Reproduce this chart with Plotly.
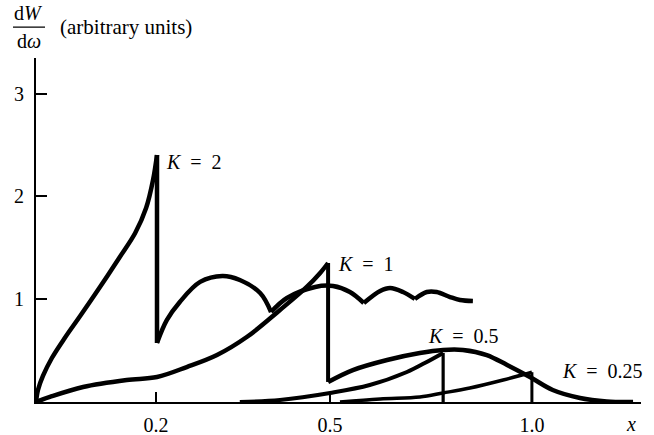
import plotly.graph_objects as go

# ---- data (x in chart units; the "1.0" tick sits at x = 1.0) ----
# K = 2
k2_rise_x = [0, 0.004, 0.014, 0.032, 0.058, 0.089, 0.129, 0.169, 0.200, 0.222, 0.236, 0.244]
k2_rise_y = [0, 0.117, 0.253, 0.428, 0.623, 0.837, 1.119, 1.411, 1.644, 1.887, 2.160, 2.403]
k2_drop_x = [0.244, 0.244]
k2_drop_y = [2.403, 0.574]
k2_arc1_x = [0.244, 0.264, 0.290, 0.331, 0.376, 0.411, 0.452, 0.474]
k2_arc1_y = [0.574, 0.798, 0.973, 1.168, 1.226, 1.187, 1.060, 0.875]
k2_arc2_x = [0.474, 0.506, 0.563, 0.599, 0.633, 0.661]
k2_arc2_y = [0.875, 1.012, 1.119, 1.128, 1.070, 0.963]
k2_arc3_x = [0.661, 0.694, 0.714, 0.740, 0.764]
k2_arc3_y = [0.963, 1.080, 1.109, 1.070, 1.002]
k2_arc4_x = [0.764, 0.788, 0.808, 0.835, 0.855, 0.881]
k2_arc4_y = [1.002, 1.070, 1.070, 1.021, 0.992, 0.982]

# K = 1
k1_rise_x = [0, 0.028, 0.095, 0.183, 0.244, 0.304, 0.365, 0.425, 0.492, 0.546, 0.573, 0.589]
k1_rise_y = [0, 0.049, 0.146, 0.214, 0.243, 0.340, 0.457, 0.632, 0.895, 1.119, 1.255, 1.352]
k1_drop_x = [0.589, 0.589]
k1_drop_y = [1.352, 0.195]
k1_hump_x = [0.589, 0.639, 0.708, 0.774, 0.821, 0.861, 0.909, 0.950, 0.996, 1.042, 1.097, 1.151, 1.204]
k1_hump_y = [0.195, 0.311, 0.409, 0.477, 0.506, 0.506, 0.457, 0.360, 0.243, 0.117, 0.039, 0.005, 0.0]

# K = 0.5
k05_rise_x = [0.411, 0.492, 0.593, 0.673, 0.748, 0.784, 0.821]
k05_rise_y = [0, 0.020, 0.088, 0.165, 0.292, 0.379, 0.477]
k05_drop_x = [0.821, 0.821]
k05_drop_y = [0.477, 0]

# K = 0.25
k025_rise_x = [0.613, 0.694, 0.774, 0.821, 0.875, 0.942, 1.0]
k025_rise_y = [0, 0.030, 0.049, 0.088, 0.136, 0.214, 0.290]
k025_drop_x = [1.0, 1.0]
k025_drop_y = [0.290, 0]

x_tick_vals = [0.242, 0.593, 1.0]
x_tick_text = ["0.2", "0.5", "1.0"]
y_tick_vals = [1, 2, 3]
y_tick_text = ["1", "2", "3"]

SP = "\u00a0\u00a0"
labels = [f"<i>K</i>{SP}={SP}2", f"<i>K</i>{SP}={SP}1", f"<i>K</i>{SP}={SP}0.5", f"<i>K</i>{SP}={SP}0.25"]
label_x = [0.260, 0.607, 0.788, 1.058]
label_y = [2.335, 1.343, 0.642, 0.302]

FONT = "Liberation Serif, Times New Roman, DejaVu Serif, serif"

fig = go.Figure()
segments = [
    (k2_rise_x, k2_rise_y, 4.5, "spline"), (k2_drop_x, k2_drop_y, 4.5, "linear"),
    (k2_arc1_x, k2_arc1_y, 4.5, "spline"), (k2_arc2_x, k2_arc2_y, 4.5, "spline"),
    (k2_arc3_x, k2_arc3_y, 4.5, "spline"), (k2_arc4_x, k2_arc4_y, 4.5, "spline"),
    (k1_rise_x, k1_rise_y, 4.5, "spline"), (k1_drop_x, k1_drop_y, 4.0, "linear"),
    (k1_hump_x, k1_hump_y, 4.5, "spline"),
    (k05_rise_x, k05_rise_y, 4.0, "spline"), (k05_drop_x, k05_drop_y, 3.2, "linear"),
    (k025_rise_x, k025_rise_y, 3.5, "spline"), (k025_drop_x, k025_drop_y, 3.0, "linear"),
]
for xs, ys, w, shp in segments:
    fig.add_trace(go.Scatter(x=xs, y=ys, mode="lines",
                             line=dict(color="black", width=w, shape=shp, smoothing=1.0),
                             showlegend=False, hoverinfo="skip", cliponaxis=False))

for t, lx, ly in zip(labels, label_x, label_y):
    fig.add_annotation(x=lx, y=ly, text=t, showarrow=False, xanchor="left", yanchor="middle",
                       align="left", borderpad=0,
                       font=dict(family=FONT, size=20, color="black"))

# y-axis title as a fraction (paper coordinates)
fig.add_annotation(xref="paper", yref="paper", x=-0.0116, y=1.130, text="d<i>W</i>",
                   showarrow=False, xanchor="center", yanchor="middle",
                   font=dict(family=FONT, size=20, color="black"))
fig.add_annotation(xref="paper", yref="paper", x=-0.0116, y=1.050, text="d<i>ω</i>",
                   showarrow=False, xanchor="center", yanchor="middle",
                   font=dict(family=FONT, size=20, color="black"))
fig.add_shape(type="line", xref="paper", yref="paper", x0=-0.038, x1=0.0149, y0=1.090, y1=1.090,
              line=dict(color="black", width=1.2))
fig.add_annotation(xref="paper", yref="paper", x=0.0364, y=1.090, text="(arbitrary units)",
                   showarrow=False, xanchor="left", yanchor="middle",
                   font=dict(family=FONT, size=21, color="black"))
fig.add_annotation(xref="paper", yref="paper", x=0.983, y=-0.064, text="<i>x</i>",
                   showarrow=False, xanchor="center", yanchor="middle",
                   font=dict(family=FONT, size=20, color="black"))

fig.update_layout(
    width=654, height=435,
    margin=dict(l=36, r=13, t=58, b=33),
    paper_bgcolor="white", plot_bgcolor="white",
    font=dict(family=FONT, size=20, color="black"),
    xaxis=dict(range=[0, 1.22], showgrid=False, zeroline=False, showline=True,
               linecolor="black", linewidth=2, ticks="inside", ticklen=10, tickwidth=1.5,
               tickcolor="black", tickvals=x_tick_vals, ticktext=x_tick_text,
               ticklabelstandoff=4, automargin=False, fixedrange=True),
    yaxis=dict(range=[0, 3.346], showgrid=False, zeroline=False, showline=True,
               linecolor="black", linewidth=2, ticks="inside", ticklen=11, tickwidth=1.5,
               tickcolor="black", tickvals=y_tick_vals, ticktext=y_tick_text,
               ticklabelstandoff=6, automargin=False, fixedrange=True),
)

fig.write_html("out.html", config={"displayModeBar": False},
               post_script="document.body.style.margin='0px';document.body.style.overflow='hidden';")
